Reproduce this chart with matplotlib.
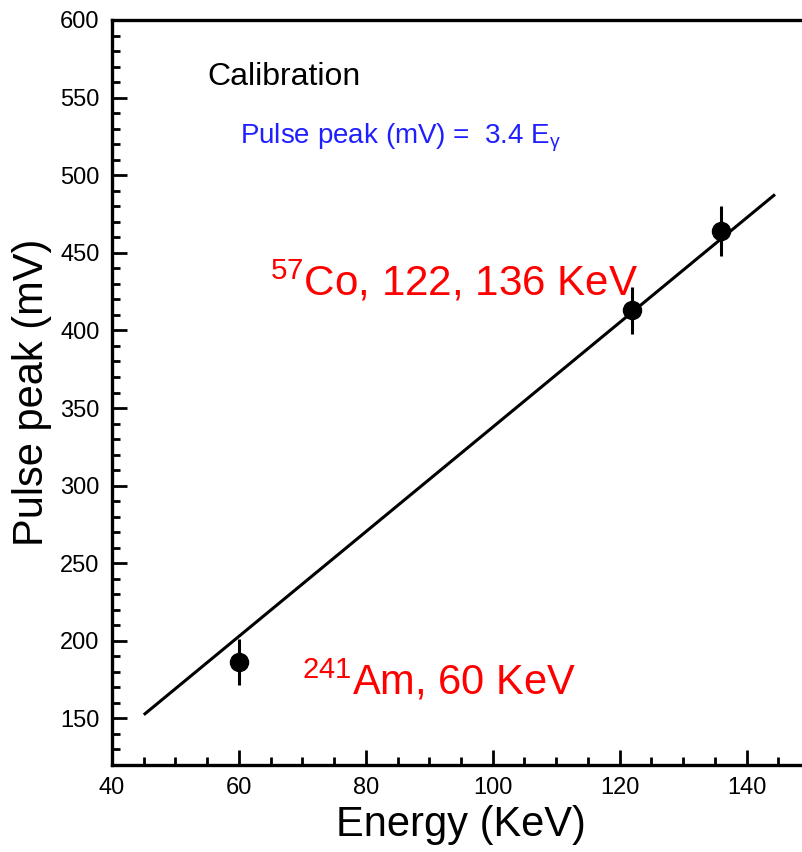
import matplotlib
matplotlib.use('Agg')
from matplotlib import pyplot as plt
from matplotlib.ticker import MultipleLocator

plt.rcParams['font.family'] = ['Liberation Sans', 'DejaVu Sans']
plt.rcParams['mathtext.fontset'] = 'custom'
plt.rcParams['mathtext.rm'] = 'Liberation Sans'
plt.rcParams['mathtext.it'] = 'Liberation Sans:italic'
plt.rcParams['mathtext.bf'] = 'Liberation Sans:bold'

# measured points (KeV, mV) with error bars
energy = [60, 122, 136]
peak = [186.5, 413, 464]
peak_err = [15, 15, 16]

# fitted calibration line, end points as drawn
fit_x = [45.2, 144.3]
fit_y = [153, 487]

fig = plt.figure(figsize=(8.02, 8.52), dpi=100)
ax = fig.add_axes([112 / 802, 87 / 852, 698 / 802, 745 / 852])

ax.plot(fit_x, fit_y, color='k', lw=2.2, zorder=2)
ax.errorbar(energy, peak, yerr=peak_err, fmt='o', color='k', ms=13,
            elinewidth=2.2, capsize=0, zorder=3)

ax.set_xlim(40, 150)
ax.set_ylim(120, 600)
ax.xaxis.set_major_locator(MultipleLocator(20))
ax.xaxis.set_minor_locator(MultipleLocator(5))
ax.yaxis.set_major_locator(MultipleLocator(50))
ax.yaxis.set_minor_locator(MultipleLocator(10))
ax.set_yticks(range(150, 601, 50))

ax.tick_params(which='both', direction='in', top=False, right=False,
               labelsize=17, width=2, pad=9)
ax.tick_params(which='major', length=11)
ax.tick_params(which='minor', length=6)
for s in ax.spines.values():
    s.set_linewidth(2.4)

ax.set_xlabel('Energy (KeV)', fontsize=30, labelpad=4)
ax.set_ylabel('Pulse peak (mV)', fontsize=30, labelpad=6)

ax.text(55.1, 558, 'Calibration', fontsize=23, color='k')
ax.text(60.2, 520.4, r'Pulse peak (mV) =  3.4 E$_{\mathrm{γ}}$', fontsize=20,
        color='#2020ff')
ax.text(64.9, 422.5, r'$^{57}$Co, 122, 136 KeV', fontsize=30.3, color='#ff0000')
ax.text(70.0, 165.5, r'$^{241}$Am, 60 KeV', fontsize=30, color='#ff0000')

plt.savefig('out.png', dpi=100)
